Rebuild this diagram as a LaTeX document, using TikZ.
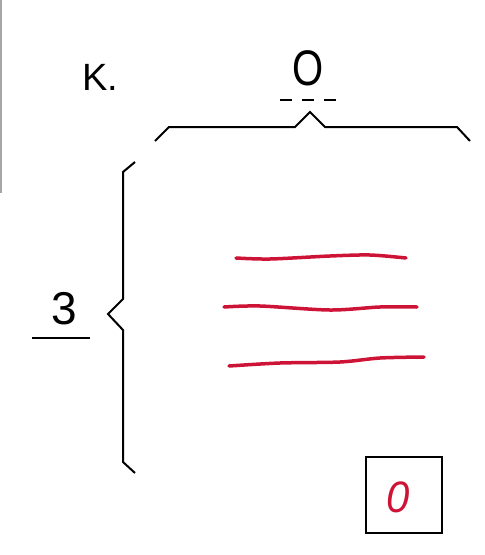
\documentclass[tikz,border=0pt]{standalone}
\usepackage{fontspec}
\setmainfont{Liberation Sans}
\begin{document}
\begin{tikzpicture}[x=1pt,y=-1pt,
  brace/.style={draw=black,line width=2pt,line join=miter},
  redline/.style={draw={rgb,255:red,205;green,20;blue,55},line width=3.5pt,line cap=round},
  lbl/.style={inner sep=0pt,font=\fontsize{50}{50}\selectfont}]
\useasboundingbox (0,0) rectangle (485,555);
\draw[gray!70,line width=1.5pt] (1,0) -- (1,193);
\node[inner sep=0pt,font=\fontsize{38}{38}\selectfont] (k) at (100,77) {K.};
\node[lbl] (o) at (308,68) {\scalebox{0.8}[1]{O}};
\draw[line width=2pt,dash pattern=on 12pt off 10pt] (280,100) -- (338,100);
\draw[brace] (155,141) -- (169,127) -- (295,127) -- (310,112) -- (325,127) -- (457,127) -- (470,141);
\draw[brace] (135,162) -- (123,172) -- (123,299) -- (108,314) -- (123,330) -- (123,462) -- (135,473);
\node[inner sep=0pt,font=\fontsize{46}{46}\selectfont] (three) at (64,309) {3};
\draw[line width=1.8pt] (32,338) -- (90,338);
\draw[redline] plot[smooth] coordinates {(236,258) (270,259) (330,256) (370,255) (406,258)};
\draw[redline] plot[smooth] coordinates {(224,307) (260,306) (330,310) (380,307) (417,307)};
\draw[redline] plot[smooth] coordinates {(229,366) (280,363) (340,362) (380,358) (424,357)};
\node[draw=black,line width=2pt,minimum width=76pt,minimum height=76pt,inner sep=0pt] (box) at (404,495) {};
\node[inner sep=0pt,text={rgb,255:red,205;green,20;blue,55},font=\fontsize{44}{44}\selectfont\itshape] (zero) at (398,497) {\scalebox{0.95}[1]{0}};
\end{tikzpicture}
\end{document}
